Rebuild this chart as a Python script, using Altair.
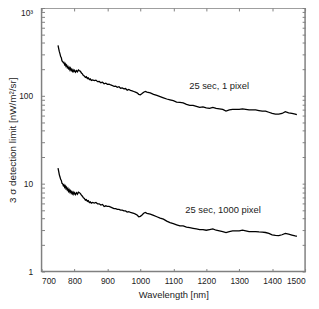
import altair as alt
import pandas as pd

# ---- data ----
wl_1px = [750, 752, 754, 756, 758, 760, 762, 764, 766, 768, 770, 772, 774, 776, 778, 780, 782, 784, 786, 788,
          790, 792, 794, 796, 798, 800, 803, 806, 809, 812, 815, 818, 821, 824, 827, 830, 833, 836, 839, 842,
          845, 848, 851, 855, 860, 865, 870, 875, 880, 885, 890, 895, 900, 905, 910, 915, 920, 925, 930, 935,
          940, 945, 950, 955, 960, 965, 970, 975, 980, 985, 990, 995,
          1000, 1005, 1010, 1015, 1020, 1030, 1040, 1050, 1060, 1070, 1080, 1090, 1100, 1110, 1120, 1130, 1140,
          1150, 1160, 1170, 1180, 1190, 1200, 1210, 1220, 1230, 1240, 1250, 1260, 1270, 1280, 1290, 1300, 1310,
          1320, 1330, 1340, 1350, 1360, 1370, 1380, 1390, 1400, 1410, 1420, 1430, 1440, 1450, 1460, 1470, 1475]
det_1px = [375, 345, 318, 300, 280, 272, 250, 246, 238, 240, 226, 232, 218, 224, 210, 216, 204, 210, 198, 206,
           194, 200, 190, 197, 189, 195, 186, 194, 188, 197, 193, 190, 182, 178, 170, 168, 162, 165, 157, 160,
           153, 156, 150, 152, 149, 151, 145, 146, 141, 143, 137, 139, 135, 136, 133, 131, 128, 129, 125, 127,
           122, 123, 120, 121, 116, 118, 115, 114, 112, 110, 108, 104,
           103, 106, 110, 112, 110, 108, 104, 101, 98, 95, 92, 90, 88, 85, 84, 83, 80,
           78, 78, 76, 74, 75, 73, 72, 74, 72, 71, 70, 67, 69, 70, 70, 70, 71,
           70, 69, 69, 69, 68, 67, 67, 65, 63, 62, 62, 63, 66, 64, 63, 62, 61]

wl_1000px = [750, 752, 754, 756, 758, 760, 762, 764, 766, 768, 770, 772, 774, 776, 778, 780, 782, 784, 786, 788,
             790, 792, 794, 796, 798, 800, 803, 806, 809, 812, 815, 818, 821, 824, 827, 830, 833, 836, 839, 842,
             845, 848, 851, 855, 860, 865, 870, 875, 880, 885, 890, 895, 900, 905, 910, 915, 920, 925, 930, 935,
             940, 945, 950, 955, 960, 965, 970, 975, 980, 985, 990, 995,
             1000, 1005, 1010, 1015, 1020, 1030, 1040, 1050, 1060, 1070, 1080, 1090, 1100, 1110, 1120, 1130, 1140,
             1150, 1160, 1170, 1180, 1190, 1200, 1210, 1220, 1230, 1240, 1250, 1260, 1270, 1280, 1290, 1300, 1310,
             1320, 1330, 1340, 1350, 1360, 1370, 1380, 1390, 1400, 1410, 1420, 1430, 1440, 1450, 1460, 1470, 1475]
det_1000px = [15.0, 13.8, 12.6, 11.9, 11.2, 10.9, 10.1, 10.0, 9.5, 9.7, 9.1, 9.4, 8.8, 9.1, 8.5, 8.8, 8.2, 8.5, 8.0, 8.3,
              7.8, 8.1, 7.7, 8.0, 7.6, 7.9, 7.5, 7.9, 7.6, 8.0, 7.9, 7.7, 7.4, 7.2, 6.9, 6.8, 6.5, 6.6, 6.3, 6.4,
              6.1, 6.2, 6.0, 6.1, 6.0, 6.1, 5.9, 5.9, 5.7, 5.8, 5.5, 5.6, 5.5, 5.5, 5.4, 5.3, 5.2, 5.2, 5.1, 5.1,
              5.0, 5.0, 4.9, 4.9, 4.75, 4.8, 4.7, 4.65, 4.6, 4.5, 4.4, 4.2,
              4.25, 4.4, 4.6, 4.7, 4.6, 4.5, 4.35, 4.2, 4.05, 3.95, 3.75, 3.6, 3.5, 3.4, 3.3, 3.3, 3.2,
              3.15, 3.1, 3.05, 3.0, 3.0, 2.95, 3.0, 3.05, 2.95, 2.9, 2.85, 2.78, 2.85, 2.9, 2.9, 2.9, 2.95,
              2.9, 2.85, 2.85, 2.85, 2.82, 2.8, 2.78, 2.72, 2.62, 2.58, 2.56, 2.62, 2.72, 2.66, 2.6, 2.54, 2.52]

label_wl = [1239, 1251]
label_det = [129, 4.98]
label_text = ["25 sec, 1 pixel", "25 sec, 1000 pixel"]

x_ticks = [700, 800, 900, 1000, 1100, 1200, 1300, 1400, 1500]
y_major = [1, 10, 100, 1000]
y_minor = [2, 3, 4, 5, 6, 7, 8, 9, 20, 30, 40, 50, 60, 70, 80, 90, 200, 300, 400, 500, 600, 700, 800, 900]

FONT = "Liberation Sans, Arial, sans-serif"
GRAY = "#808080"
TXT = "#222222"

df1 = pd.DataFrame({"wl": wl_1px, "det": det_1px})
df2 = pd.DataFrame({"wl": wl_1000px, "det": det_1000px})
dfl = pd.DataFrame({"wl": label_wl, "det": label_det, "text": label_text})

xs = alt.Scale(domain=[700, 1500], nice=False, zero=False)
ys = alt.Scale(type="log", domain=[1, 1000], nice=False)

tick_common = dict(grid=True, gridDash=[3, 2000], gridColor=GRAY, gridWidth=1, gridOpacity=1,
                   ticks=False, domain=False)

upper = alt.Chart(df1).mark_line(color="black", strokeWidth=1.3).encode(
    x=alt.X("wl:Q", scale=xs,
            axis=alt.Axis(orient="bottom", values=x_ticks, format="d", title="Wavelength [nm]",
                          labelPadding=5, titlePadding=5, titleFontSize=9.5, **tick_common)),
    y=alt.Y("det:Q", scale=ys,
            axis=alt.Axis(orient="left", values=y_major + y_minor,
                          labelExpr="datum.value == 1000 ? '10³' : (indexof([1,10,100], datum.value) >= 0 ? datum.label : '')",
                          labelOffset={"condition": {"test": "datum.value == 1000", "value": 5}, "value": 0},
                          title="3 σ detection limit [nW/m²/sr]", titleFontSize=10,
                          titleX=-24, labelPadding=9,
                          **tick_common)),
)

lower = alt.Chart(df2).mark_line(color="black", strokeWidth=1.3).encode(
    x=alt.X("wl:Q", scale=xs,
            axis=alt.Axis(orient="top", values=x_ticks, labels=False, title=None, **tick_common)),
    y=alt.Y("det:Q", scale=ys,
            axis=alt.Axis(orient="right", values=y_major + y_minor, labels=False, title=None, **tick_common)),
)

labels = alt.Chart(dfl).mark_text(font=FONT, fontSize=9.5, color=TXT).encode(
    x=alt.X("wl:Q", scale=xs, axis=None),
    y=alt.Y("det:Q", scale=ys, axis=None),
    text="text:N",
)

chart = alt.layer(upper, lower, labels).resolve_axis(x="independent", y="independent").properties(
    width=267, height=267,
    autosize=alt.AutoSizeParams(type="none"),
    padding={"left": 34, "top": -2, "right": 6, "bottom": 36},
).configure_view(stroke=GRAY, strokeWidth=1.5).configure_axis(
    labelFont=FONT, labelFontSize=8.5, labelColor=TXT,
    titleFont=FONT, titleColor=TXT, titleFontWeight="normal",
)

chart.save("out.html", embed_options={"renderer": "svg", "actions": False})
